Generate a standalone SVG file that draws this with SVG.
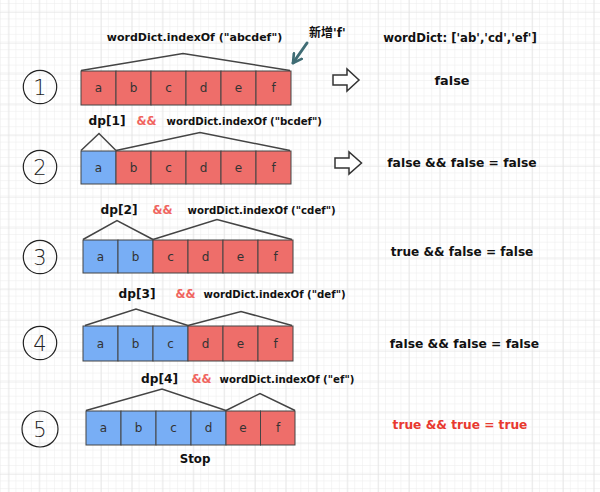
<svg xmlns="http://www.w3.org/2000/svg" width="600" height="492" viewBox="0 0 600 492">
<defs>
<pattern id="minor" patternUnits="userSpaceOnUse" x="1" y="4" width="7.7" height="7.7">
<path d="M7.7,0 V7.7 M0,7.7 H7.7" fill="none" stroke="#ececec" stroke-width="1"/>
</pattern>
<pattern id="major" patternUnits="userSpaceOnUse" x="8.5" y="12" width="30.8" height="30.8">
<path d="M0,0 V30.8 M0,0 H30.8" fill="none" stroke="#e2e2e2" stroke-width="1.2"/>
</pattern>
<marker id="tealHead" viewBox="0 0 10 10" refX="8" refY="5" markerWidth="4" markerHeight="4" orient="auto" markerUnits="strokeWidth">
<path d="M1,1 L8,5 L1,9" fill="none" stroke="#3f6c74" stroke-width="2.2" stroke-linecap="round" stroke-linejoin="round"/>
</marker>
</defs>
<style>
text{font-family:"DejaVu Sans",Verdana,sans-serif;}
.lbl{font-size:10.2px;font-weight:bold;fill:#111;}
.dp{font-size:12.2px;font-weight:bold;fill:#111;}
.and{font-size:11.5px;font-weight:bold;fill:#f0645e;}
.res{font-size:12.3px;font-weight:bold;fill:#111;text-anchor:middle;}
.cell{font-size:12px;fill:#333;text-anchor:middle;}
.red{fill:#ee6e6a;stroke:#444;stroke-width:1;}
.blue{fill:#78aef5;stroke:#444;stroke-width:1;}
.tri{fill:none;stroke:#444;stroke-width:1.5;stroke-linejoin:miter;}
.num{fill:none;stroke:#222;stroke-width:1.2;}
.numt{font-family:"DejaVu Sans",sans-serif;font-size:21px;fill:#222;text-anchor:middle;font-weight:200;}
.blk{fill:#fff;stroke:#333;stroke-width:1.5;stroke-linejoin:miter;}
</style>
<rect width="600" height="492" fill="#fff"/>
<rect width="600" height="492" fill="url(#minor)"/>
<rect width="600" height="492" fill="url(#major)"/>

<g id="step1">
<circle class="num" cx="40" cy="87" r="16.7"/>
<text class="numt" x="40" y="95">1</text>
<text class="lbl" x="194.5" y="41" text-anchor="middle" style="font-size:11px">wordDict.indexOf ("abcdef")</text>
<rect class="red" x="81" y="71" width="35" height="34"/>
<rect class="red" x="116" y="71" width="35" height="34"/>
<rect class="red" x="151" y="71" width="35" height="34"/>
<rect class="red" x="186" y="71" width="35" height="34"/>
<rect class="red" x="221" y="71" width="35" height="34"/>
<rect class="red" x="256" y="71" width="35" height="34"/>
<text class="cell" x="98.5" y="92">a</text>
<text class="cell" x="133.5" y="92">b</text>
<text class="cell" x="168.5" y="92">c</text>
<text class="cell" x="203.5" y="92">d</text>
<text class="cell" x="238.5" y="92">e</text>
<text class="cell" x="273.5" y="92">f</text>
<polyline class="tri" points="81,70.5 183,53.5 290,70.5"/>
</g>

<g id="step2">
<circle class="num" cx="40" cy="167" r="16.7"/>
<text class="numt" x="40" y="175">2</text>
<text class="dp" x="88.5" y="125">dp[1]</text>
<text class="and" x="136.5" y="125">&amp;&amp;</text>
<text class="lbl" x="166.5" y="125">wordDict.indexOf ("bcdef")</text>
<rect class="blue" x="81" y="151" width="35" height="33"/>
<rect class="red" x="116" y="151" width="35" height="33"/>
<rect class="red" x="151" y="151" width="35" height="33"/>
<rect class="red" x="186" y="151" width="35" height="33"/>
<rect class="red" x="221" y="151" width="35" height="33"/>
<rect class="red" x="256" y="151" width="35" height="33"/>
<text class="cell" x="98.5" y="172">a</text>
<text class="cell" x="133.5" y="172">b</text>
<text class="cell" x="168.5" y="172">c</text>
<text class="cell" x="203.5" y="172">d</text>
<text class="cell" x="238.5" y="172">e</text>
<text class="cell" x="273.5" y="172">f</text>
<polyline class="tri" points="81,150.5 99,133.5 116,150.5"/>
<polyline class="tri" points="116,150.5 200,132.5 290,150.5"/>
</g>

<g id="step3">
<circle class="num" cx="40" cy="257" r="16.7"/>
<text class="numt" x="40" y="265">3</text>
<text class="dp" x="100.5" y="214">dp[2]</text>
<text class="and" x="152.5" y="214">&amp;&amp;</text>
<text class="lbl" x="187.5" y="214">wordDict.indexOf ("cdef")</text>
<rect class="blue" x="83" y="240" width="35" height="33"/>
<rect class="blue" x="118" y="240" width="35" height="33"/>
<rect class="red" x="153" y="240" width="35" height="33"/>
<rect class="red" x="188" y="240" width="35" height="33"/>
<rect class="red" x="223" y="240" width="35" height="33"/>
<rect class="red" x="258" y="240" width="35" height="33"/>
<text class="cell" x="100.5" y="261">a</text>
<text class="cell" x="135.5" y="261">b</text>
<text class="cell" x="170.5" y="261">c</text>
<text class="cell" x="205.5" y="261">d</text>
<text class="cell" x="240.5" y="261">e</text>
<text class="cell" x="275.5" y="261">f</text>
<polyline class="tri" points="83,239.5 117,220.5 153,239.5"/>
<polyline class="tri" points="153,239.5 217,219.5 292,239.5"/>
</g>

<g id="step4">
<circle class="num" cx="40" cy="343" r="16.7"/>
<text class="numt" x="40" y="351">4</text>
<text class="dp" x="118.5" y="298">dp[3]</text>
<text class="and" x="175.5" y="298">&amp;&amp;</text>
<text class="lbl" x="203.5" y="298">wordDict.indexOf ("def")</text>
<rect class="blue" x="83" y="326" width="35" height="35"/>
<rect class="blue" x="118" y="326" width="35" height="35"/>
<rect class="blue" x="153" y="326" width="35" height="35"/>
<rect class="red" x="188" y="326" width="35" height="35"/>
<rect class="red" x="223" y="326" width="35" height="35"/>
<rect class="red" x="258" y="326" width="35" height="35"/>
<text class="cell" x="100.5" y="348">a</text>
<text class="cell" x="135.5" y="348">b</text>
<text class="cell" x="170.5" y="348">c</text>
<text class="cell" x="205.5" y="348">d</text>
<text class="cell" x="240.5" y="348">e</text>
<text class="cell" x="275.5" y="348">f</text>
<polyline class="tri" points="85,325.5 136,309 188,325.5"/>
<polyline class="tri" points="188,325.5 241,311.5 292,325.5"/>
</g>

<g id="step5">
<circle class="num" cx="40" cy="429" r="18"/>
<text class="numt" x="40" y="437">5</text>
<text class="dp" x="141" y="383">dp[4]</text>
<text class="and" x="191.5" y="383">&amp;&amp;</text>
<text class="lbl" x="219.5" y="383">wordDict.indexOf ("ef")</text>
<rect class="blue" x="86" y="411" width="35" height="34"/>
<rect class="blue" x="121" y="411" width="35" height="34"/>
<rect class="blue" x="156" y="411" width="35" height="34"/>
<rect class="blue" x="191" y="411" width="35" height="34"/>
<rect class="red" x="226" y="411" width="34.5" height="34"/>
<rect class="red" x="260.5" y="411" width="34.5" height="34"/>
<text class="cell" x="103.5" y="432">a</text>
<text class="cell" x="138.5" y="432">b</text>
<text class="cell" x="173.5" y="432">c</text>
<text class="cell" x="208.5" y="432">d</text>
<text class="cell" x="243" y="432">e</text>
<text class="cell" x="278" y="432">f</text>
<polyline class="tri" points="86,410.5 162,389 226,410.5"/>
<polyline class="tri" points="226,410.5 260,393.5 295,410.5"/>
<text class="lbl" x="195" y="463" text-anchor="middle" style="font-size:11.8px">Stop</text>
</g>

<g id="notes">
<text x="309" y="37" style="font-family:'DejaVu Sans','Noto Sans CJK SC',sans-serif;font-size:12px;font-weight:bold;fill:#111">新增'f'</text>
<text class="lbl" x="460" y="42" text-anchor="middle" style="font-size:11.7px">wordDict: ['ab','cd','ef']</text>
<text class="res" x="452" y="85" style="font-size:12.8px">false</text>
<text class="res" x="462" y="167">false &amp;&amp; false = false</text>
<text class="res" x="462" y="256" style="font-size:12.1px">true &amp;&amp; false = false</text>
<text class="res" x="464.5" y="348">false &amp;&amp; false = false</text>
<text class="res" x="460" y="429" style="fill:#e8392f;font-size:12.2px">true &amp;&amp; true = true</text>
</g>

<g id="connectors">
<line x1="307" y1="43" x2="293" y2="63" stroke="#3f6c74" stroke-width="3" stroke-linecap="round" marker-end="url(#tealHead)"/>
<path class="blk" d="M333,75 L347,75 L347,69 L359,80 L347,91 L347,85 L333,85 Z"/>
<path class="blk" d="M335,158 L349,158 L349,152 L361.5,163 L349,174 L349,168 L335,168 Z"/>
</g>
</svg>
